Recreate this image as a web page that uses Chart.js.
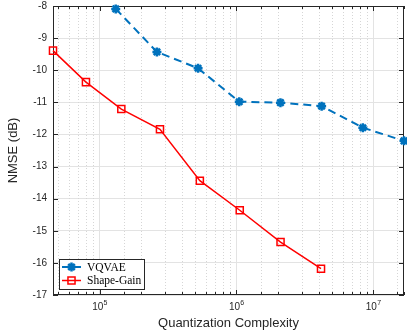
<!DOCTYPE html>
<html>
<head>
<meta charset="utf-8">
<script src="https://cdn.jsdelivr.net/npm/chart.js@4/dist/chart.umd.min.js"></script>
<style>
  html, body { margin: 0; padding: 0; background: #ffffff; }
  #wrap { width: 407px; height: 333px; }
</style>
</head>
<body>
<div id="wrap"><canvas id="chart" width="407" height="333"></canvas></div>
<script>
// values
const vqvaeComplexity = [131072, 262144, 524288, 1048576, 2097152, 4194304, 8388608, 16777216];
const vqvaeNmse = [-8.09, -9.43, -9.94, -10.98, -11.01, -11.12, -11.79, -12.20];

const shapeGainComplexity = [45600, 79400, 144000, 276000, 540000, 1057000, 2100000, 4150000];
const shapeGainNmse = [-9.39, -10.37, -11.21, -11.84, -13.44, -14.36, -15.35, -16.18];

const seriesNames = ['VQVAE', 'Shape-Gain'];
const xMin = 45600, xMax = 16777216;
const yMin = -17, yMax = -8;

const isPow10 = v => { const e = Math.log10(v); return Math.abs(e - Math.round(e)) < 1e-9; };
const toPoints = (xs, ys) => xs.map((x, i) => ({x: x, y: ys[i]}));
const sansFont = '"Liberation Sans", Arial, sans-serif';

// box, inward ticks, dotted minor grid and 10^n labels (matlab look)
const boxPlugin = {
  id: 'box',
  beforeDatasetsDraw(chart) {
    const {ctx, chartArea: a, scales: {x, y}} = chart;
    ctx.save();
    ctx.lineWidth = 1;
    ctx.strokeStyle = '#d6d6d6';
    ctx.setLineDash([1, 2]);
    x.ticks.forEach(t => {
      if (isPow10(t.value)) return;
      const px = Math.round(x.getPixelForValue(t.value)) + 0.5;
      if (px <= a.left + 1 || px >= a.right - 1) return;
      ctx.beginPath(); ctx.moveTo(px, a.top); ctx.lineTo(px, a.bottom); ctx.stroke();
    });
    ctx.setLineDash([]);
    ctx.strokeStyle = '#262626';
    x.ticks.forEach(t => {
      const px = Math.round(x.getPixelForValue(t.value)) + 0.5;
      const len = isPow10(t.value) ? 5 : 3;
      ctx.beginPath();
      ctx.moveTo(px, a.bottom); ctx.lineTo(px, a.bottom - len);
      ctx.moveTo(px, a.top); ctx.lineTo(px, a.top + len);
      ctx.stroke();
    });
    y.ticks.forEach(t => {
      const py = Math.round(y.getPixelForValue(t.value)) + 0.5;
      ctx.beginPath();
      ctx.moveTo(a.left, py); ctx.lineTo(a.left + 5, py);
      ctx.moveTo(a.right, py); ctx.lineTo(a.right - 5, py);
      ctx.stroke();
    });
    ctx.strokeRect(Math.round(a.left) + 0.5, Math.round(a.top) + 0.5,
                   Math.round(a.width) - 1, Math.round(a.height) - 1);

    // x tick labels with a real superscript
    ctx.fillStyle = '#262626';
    ctx.textBaseline = 'alphabetic';
    x.ticks.forEach(t => {
      if (!isPow10(t.value)) return;
      const px = x.getPixelForValue(t.value);
      const base = '10', ex = String(Math.round(Math.log10(t.value)));
      ctx.font = '10px ' + sansFont;
      const wb = ctx.measureText(base).width;
      ctx.font = '7px ' + sansFont;
      const we = ctx.measureText(ex).width;
      const x0 = px - (wb + we) / 2;
      ctx.font = '10px ' + sansFont;
      ctx.textAlign = 'left';
      ctx.fillText(base, x0, a.bottom + 15);
      ctx.font = '7px ' + sansFont;
      ctx.fillText(ex, x0 + wb + 0.3, a.bottom + 10);
    });
    ctx.restore();
  }
};

const legendPlugin = {
  id: 'boxLegend',
  afterDatasetsDraw(chart) {
    const {ctx, chartArea: a} = chart;
    const bx = a.left + 6, bw = 85, bh = 30, by = a.bottom - 6 - bh;
    ctx.save();
    ctx.fillStyle = '#ffffff';
    ctx.fillRect(bx, by, bw, bh);
    ctx.strokeStyle = '#262626';
    ctx.lineWidth = 1;
    ctx.strokeRect(bx + 0.5, by + 0.5, bw, bh);
    ctx.font = '11.5px "Liberation Serif", "DejaVu Serif", serif';
    ctx.textBaseline = 'middle';
    chart.data.datasets.forEach((ds, i) => {
      const cy = by + 8 + i * 13.5;
      ctx.strokeStyle = ds.borderColor;
      ctx.lineWidth = ds.borderWidth;
      ctx.setLineDash(ds.borderDash || []);
      ctx.beginPath(); ctx.moveTo(bx + 3, cy); ctx.lineTo(bx + 22, cy); ctx.stroke();
      ctx.setLineDash([]);
      ctx.fillStyle = ds.pointBackgroundColor;
      ctx.strokeStyle = ds.borderColor;
      ctx.lineWidth = ds.pointBorderWidth;
      Chart.helpers.drawPoint(ctx, {pointStyle: ds.pointStyle, rotation: 0, borderWidth: ds.pointBorderWidth, radius: ds.pointRadius}, bx + 12.5, cy);
      ctx.fillStyle = '#000000';
      ctx.fillText(ds.label, bx + 28, cy + 0.5);
    });
    ctx.restore();
  }
};

new Chart(document.getElementById('chart'), {
  type: 'line',
  data: {
    datasets: [{
      label: seriesNames[0],
      data: toPoints(vqvaeComplexity, vqvaeNmse),
      borderColor: '#0072BD',
      backgroundColor: '#0072BD',
      borderWidth: 2,
      borderDash: [8, 5],
      pointStyle: 'star',
      pointRadius: 4.5,
      pointBorderWidth: 2.5,
      pointBackgroundColor: '#0072BD',
      tension: 0,
      clip: false
    }, {
      label: seriesNames[1],
      data: toPoints(shapeGainComplexity, shapeGainNmse),
      borderColor: '#FF0000',
      backgroundColor: '#FF0000',
      borderWidth: 1.5,
      pointStyle: 'rect',
      pointRadius: 5,
      pointBorderWidth: 1.5,
      pointBackgroundColor: 'rgba(0,0,0,0)',
      tension: 0,
      clip: false
    }]
  },
  options: {
    responsive: false,
    animation: false,
    layout: { autoPadding: false, padding: { left: 0, top: 6, right: 3, bottom: 0 } },
    plugins: { legend: { display: false }, tooltip: { enabled: false } },
    scales: {
      x: {
        type: 'logarithmic',
        min: xMin,
        max: xMax,
        border: { display: false },
        grid: {
          drawTicks: false,
          color: ctx => (ctx.tick && isPow10(ctx.tick.value)) ? '#e3e3e3' : 'rgba(0,0,0,0)'
        },
        ticks: {
          autoSkip: false,
          maxRotation: 0,
          padding: 5,
          font: { family: sansFont, size: 10 },
          callback: () => ''
        },
        title: {
          display: true,
          text: 'Quantization Complexity',
          color: '#262626',
          padding: { top: 0, bottom: 2 },
          font: { family: sansFont, size: 13 }
        },
        afterFit: s => { s.height = 38; s.paddingLeft = 0; s.paddingRight = 0; }
      },
      y: {
        min: yMin,
        max: yMax,
        border: { display: false },
        grid: { drawTicks: false, color: '#e3e3e3' },
        ticks: {
          stepSize: 1,
          padding: 6,
          color: '#262626',
          font: { family: sansFont, size: 10 }
        },
        title: {
          display: true,
          text: 'NMSE (dB)',
          color: '#262626',
          padding: { top: 6, bottom: 0 },
          font: { family: sansFont, size: 13 }
        },
        afterFit: s => { s.width = 53; s.paddingTop = 0; s.paddingBottom = 0; }
      }
    }
  },
  plugins: [boxPlugin, legendPlugin]
});
</script>
</body>
</html>
